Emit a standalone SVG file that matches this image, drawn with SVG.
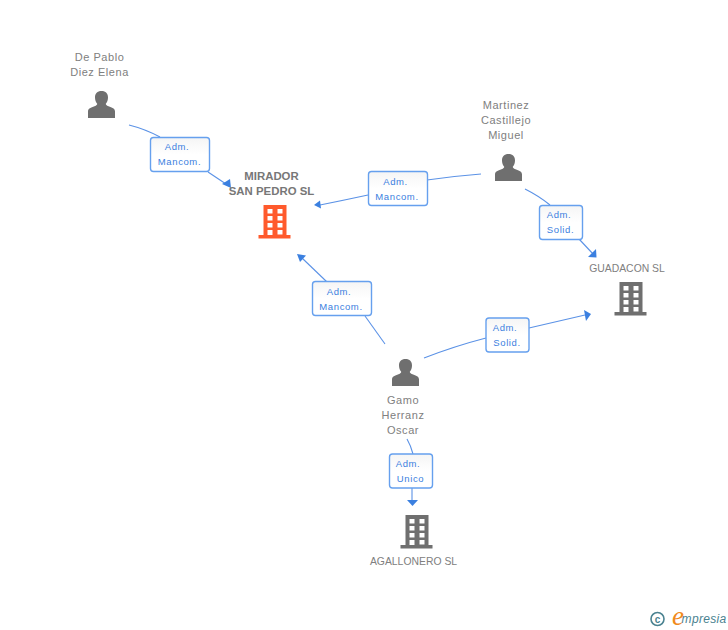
<svg xmlns="http://www.w3.org/2000/svg" width="728" height="630" viewBox="0 0 728 630">
<style>
text{font-family:"Liberation Sans",Arial,sans-serif;text-anchor:middle}
.n{font-size:11px;fill:#808080;letter-spacing:.55px}
.e{font-size:10.400px;fill:#808080}
.b{font-size:11.400px;fill:#777;font-weight:bold}
.l{font-size:9.500px;fill:#3b80e0;letter-spacing:.6px}
.c{fill:none;stroke:#5b92e6;stroke-width:1.100}
.box{fill:url(#g);stroke:#66a0ee;stroke-width:1.400}
.h{fill:#3b80e0}
</style>
<defs>
<linearGradient id="g" x1="0" y1="0" x2="0" y2="1"><stop offset="0" stop-color="#f5f5f5"/><stop offset=".5" stop-color="#fff"/></linearGradient>
<path id="person" d="M0 27V20.500C0 17.500 3 16.500 6.500 15.300C8.500 14.600 9.200 13.800 9.200 12.800C7.800 11.300 7 9 7 6.500C7 2.500 9.300 0 13.500 0C17.700 0 20 2.500 20 6.500C20 9 19.200 11.300 17.800 12.800C17.800 13.800 18.500 14.600 20.500 15.300C24 16.500 27 17.500 27 20.500V27Z"/>
<path id="bld" fill-rule="evenodd" d="M5 0H28V30H32V33.500H0V30H5ZM9 4V8.500H14V4ZM19 4V8.500H24V4ZM9 11V15.500H14V11ZM19 11V15.500H24V11ZM9 18V22.500H14V18ZM19 18V22.500H24V18ZM9 25V30H14V25ZM19 25V29.500H24V25Z"/>
</defs>
<g id="connectors">
<path class="c" d="M129 125Q145 129 160 137"/><path class="c" d="M208 172L226 184"/><path class="h" d="M231 188L222 184L230 179Z"/>
<path class="c" d="M481 174Q455 176 427 180"/><path class="c" d="M368 195Q345 200 320 205"/><path class="h" d="M314 205L320 200.500L321 208.500Z"/>
<path class="c" d="M525 189Q539 196 550 205"/><path class="c" d="M579 239L594 255"/><path class="h" d="M596.500 257.500L588 257L596 249Z"/>
<path class="c" d="M385 344L365 316"/><path class="c" d="M327 282L302 258"/><path class="h" d="M297 254L306 255.500L300 262Z"/>
<path class="c" d="M424 358Q455 346 486 338"/><path class="c" d="M529 328Q555 322 585 315"/><path class="h" d="M591 314L586 321L584 310Z"/>
<path class="c" d="M407 439Q411 446 413 454"/><path class="c" d="M412 488V501"/><path class="h" d="M412.500 506L407 500H418Z"/>
</g>
<g id="de-pablo"><text class="n" x="99.500" y="61">De Pablo</text><text class="n" x="99.500" y="76">Diez Elena</text><use href="#person" x="88" y="91" fill="#6f6f6f"/></g>
<g id="mirador"><text class="b" x="271.500" y="180">MIRADOR</text><text class="b" x="271.500" y="195">SAN PEDRO SL</text><use href="#bld" x="258.500" y="205" fill="#ff5a2c"/></g>
<g id="martinez"><text class="n" x="506" y="109">Martinez</text><text class="n" x="506" y="124">Castillejo</text><text class="n" x="506" y="139">Miguel</text><use href="#person" x="495" y="154" fill="#6f6f6f"/></g>
<g id="guadacon"><text class="e" x="627" y="272">GUADACON SL</text><use href="#bld" x="614.500" y="282" fill="#6f6f6f"/></g>
<g id="gamo"><use href="#person" x="392" y="359" fill="#6f6f6f"/><text class="n" x="403" y="404">Gamo</text><text class="n" x="403" y="419">Herranz</text><text class="n" x="403" y="434">Oscar</text></g>
<g id="agallonero"><use href="#bld" x="400.500" y="515" fill="#6f6f6f"/><text class="e" x="413.500" y="565">AGALLONERO SL</text></g>
<g id="label-1"><rect class="box" x="150.500" y="137.500" width="59" height="34" rx="3"/><text class="l" x="177" y="150">Adm.</text><text class="l" x="179.500" y="165">Mancom.</text></g>
<g id="label-2"><rect class="box" x="368.500" y="171.500" width="59" height="34" rx="3"/><text class="l" x="395.500" y="185">Adm.</text><text class="l" x="397" y="200">Mancom.</text></g>
<g id="label-3"><rect class="box" x="539.500" y="205.500" width="43" height="34" rx="3"/><text class="l" x="559" y="218">Adm.</text><text class="l" x="560.500" y="233">Solid.</text></g>
<g id="label-4"><rect class="box" x="312.500" y="281.500" width="59" height="34" rx="3"/><text class="l" x="339" y="295">Adm.</text><text class="l" x="341" y="310">Mancom.</text></g>
<g id="label-5"><rect class="box" x="486" y="318" width="43" height="34" rx="3"/><text class="l" x="505" y="331">Adm.</text><text class="l" x="507" y="346">Solid.</text></g>
<g id="label-6"><rect class="box" x="389.500" y="454" width="43" height="34" rx="3"/><text class="l" x="408" y="467">Adm.</text><text class="l" x="410.500" y="482">Unico</text></g>
<g id="brand"><circle cx="657.500" cy="619" r="6.500" fill="none" stroke="#4a8290" stroke-width="1.600"/><text x="657.500" y="622.500" style="font-size:10px;fill:#4a8290;font-weight:bold">c</text><text x="678" y="625" style="font-size:27px;fill:#f08a1c;font-style:italic;font-family:'Liberation Serif',serif">e</text><text x="704" y="623" style="font-size:12px;fill:#4a8290;font-style:italic;letter-spacing:.3px">mpresia</text></g>
</svg>
